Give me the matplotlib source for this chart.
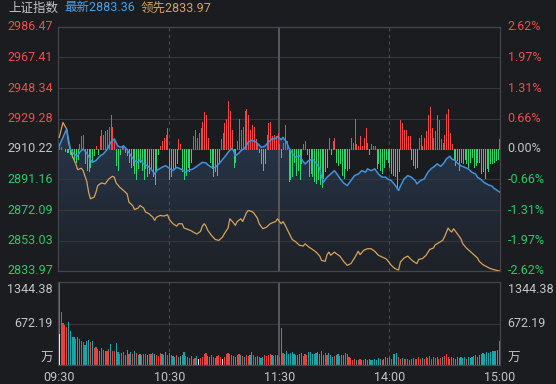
import numpy as np
import matplotlib

matplotlib.use("Agg")
import matplotlib.pyplot as plt  # noqa: E402
from matplotlib.colors import LinearSegmentedColormap  # noqa: E402

# --- dados (minutos desde 09:30, pregão de 240 min) ---
PREV_CLOSE = 2910.22
Y_LOW, Y_HIGH = 2833.97, 2986.47
VOL_MAX = 1344.38

# índice (linha azul)
blue_t = [0, 4, 6, 8, 10, 11, 13, 15, 17, 18, 20, 22, 24, 26, 28, 30, 32, 34, 35, 37,
          39, 41, 43, 44, 46, 48, 50, 52, 53, 56, 58, 60, 62, 64, 67, 69, 70, 73, 75, 78,
          80, 81, 83, 85, 87, 89, 90, 92, 94, 95, 96, 98, 99, 101, 103, 105, 107, 109, 110, 112,
          114, 116, 118, 119, 121, 122, 124, 125, 127, 129, 131, 133, 134, 136, 138, 140, 142, 143, 144, 146,
          148, 150, 151, 153, 155, 157, 159, 161, 163, 165, 167, 168, 170, 172, 174, 176, 178, 179, 181, 183,
          185, 186, 188, 190, 192, 194, 195, 197, 199, 201, 203, 204, 206, 208, 210, 211, 213, 214, 216, 217,
          219, 221, 223, 225, 227, 228, 230, 232, 234, 236, 237, 240]
blue_p = [2912.3, 2922.7, 2910.2, 2907.1, 2905.7, 2908.1, 2910.2, 2907.7, 2903.6, 2901.9,
          2903.0, 2905.7, 2907.1, 2909.8, 2914.4, 2916.5, 2911.9, 2911.3, 2912.3, 2909.8,
          2906.1, 2903.0, 2901.9, 2903.6, 2900.9, 2899.8, 2897.8, 2894.6, 2896.7, 2898.8,
          2899.8, 2898.2, 2896.7, 2898.8, 2897.3, 2895.7, 2896.7, 2897.8, 2899.4, 2901.9,
          2901.5, 2900.3, 2898.8, 2898.8, 2900.9, 2903.6, 2905.0, 2908.1, 2910.6, 2909.2,
          2906.1, 2907.7, 2909.2, 2910.6, 2914.4, 2915.8, 2914.8, 2912.7, 2911.3, 2911.9,
          2914.4, 2916.5, 2916.9, 2918.1, 2916.0, 2917.5, 2914.4, 2911.3, 2907.7, 2905.0,
          2906.1, 2902.3, 2900.9, 2903.0, 2904.0, 2901.5, 2898.2, 2892.6, 2889.5, 2892.6,
          2894.6, 2896.7, 2895.3, 2891.9, 2889.0, 2887.4, 2890.5, 2893.6, 2894.6, 2896.7,
          2895.7, 2897.8, 2896.7, 2897.8, 2894.6, 2892.6, 2892.6, 2891.5, 2890.5, 2887.8,
          2884.3, 2887.0, 2891.5, 2893.6, 2892.6, 2890.5, 2888.4, 2890.5, 2891.5, 2895.7,
          2898.2, 2898.8, 2900.9, 2899.4, 2901.9, 2904.0, 2905.7, 2904.0, 2903.0, 2901.5,
          2899.8, 2898.8, 2897.8, 2895.7, 2894.6, 2892.6, 2891.1, 2889.0, 2887.8, 2887.0,
          2885.7, 2883.36]

# 领先指标 (linha laranja)
lead_t = [0, 2, 4, 5, 7, 9, 10, 12, 13, 15, 16, 17, 19, 20, 21, 23, 25, 26, 27, 29,
          30, 31, 33, 35, 37, 38, 40, 41, 43, 44, 46, 47, 49, 51, 52, 53, 55, 57, 59, 60,
          62, 64, 65, 67, 68, 70, 72, 73, 75, 77, 78, 79, 80, 81, 83, 85, 87, 89, 90, 92,
          93, 95, 96, 97, 99, 100, 102, 103, 105, 106, 108, 109, 111, 113, 115, 117, 118, 119, 121, 122,
          123, 125, 127, 129, 131, 133, 134, 136, 138, 140, 142, 143, 145, 146, 147, 148, 150, 151, 153, 155,
          157, 159, 161, 163, 164, 166, 168, 170, 172, 174, 176, 178, 179, 181, 183, 185, 186, 188, 190, 191,
          193, 195, 196, 198, 200, 202, 204, 205, 207, 209, 210, 212, 213, 214, 215, 217, 219, 220, 222, 224,
          226, 228, 229, 231, 233, 235, 237, 239, 240]
lead_p = [2917.5, 2926.8, 2922.7, 2914.4, 2906.1, 2900.9, 2897.3, 2898.2, 2896.7, 2889.9,
          2883.2, 2879.1, 2880.1, 2883.2, 2887.4, 2889.0, 2888.4, 2889.9, 2891.5, 2893.2,
          2892.6, 2889.0, 2886.3, 2884.3, 2882.2, 2877.0, 2874.9, 2872.4, 2873.3, 2874.9,
          2873.3, 2870.8, 2869.7, 2867.6, 2865.6, 2867.6, 2868.7, 2868.3, 2869.1, 2866.2,
          2863.5, 2862.0, 2863.5, 2863.5, 2860.8, 2860.0, 2859.1, 2858.3, 2857.1, 2858.7,
          2862.0, 2863.5, 2862.0, 2859.3, 2856.2, 2853.7, 2853.1, 2855.2, 2857.3, 2860.8,
          2866.6, 2864.1, 2862.5, 2864.9, 2866.6, 2864.9, 2870.3, 2871.8, 2871.2, 2870.3,
          2867.0, 2863.5, 2860.4, 2861.4, 2863.5, 2864.5, 2864.9, 2866.6, 2863.5, 2864.9,
          2862.9, 2858.3, 2853.7, 2852.1, 2850.0, 2849.6, 2851.0, 2849.0, 2847.5, 2845.8,
          2843.3, 2840.6, 2840.0, 2844.2, 2845.8, 2843.8, 2845.8, 2844.8, 2843.3, 2840.0,
          2837.5, 2838.6, 2842.1, 2846.3, 2844.2, 2846.9, 2847.9, 2847.9, 2846.3, 2843.8,
          2842.7, 2841.7, 2840.6, 2837.5, 2835.5, 2834.6, 2839.6, 2842.1, 2843.3, 2842.1,
          2840.0, 2838.6, 2841.3, 2841.7, 2843.8, 2847.5, 2848.3, 2850.4, 2851.7, 2853.1,
          2855.2, 2860.8, 2859.3, 2858.3, 2860.4, 2857.3, 2854.1, 2851.0, 2848.3, 2846.3,
          2844.2, 2842.1, 2840.0, 2837.9, 2836.7, 2835.5, 2834.8, 2834.2, 2833.97]

# barras vermelhas/verdes (força), em pontos do índice a partir do fechamento anterior
force = [2, 1, 0, -1, -2, -2, -3, -5, -6, -8,
         -6, 3, 8, 9, -9, -13, -14, -11, -8, -4,
         2, -3, 8, 12, 9, 11, 12, 14, 21, 14,
         6, -10, -13, -3, 2, 1, -2, -4, -8, -11,
         -10, -15, -19, -12, -8, -13, -19, -12, -17, -15,
         -12, -17, -22, -14, -3, 2, 5, 7, 9, 13,
         -19, -17, -12, -11, -9, 6, 3, -14, -19, -16,
         -11, -14, -8, 8, 12, 7, 10, 13, 17, 23,
         21, 7, -8, -12, -17, -14, -16, -9, 6, 10,
         16, 19, 30, 24, 12, -11, -8, 5, 19, 12,
         14, 24, 25, 21, 12, 15, 14, 6, 3, -2,
         -9, -13, -9, 9, 16, 17, 8, 9, 8, 10,
         3, -5, 4, 15, 5, -20, -19, -17, -8, -16,
         -13, -19, -9, 3, 5, -3, -17, -15, -17, -20,
         -21, -19, -22, -24, -18, -14, -11, 7, -3, 5,
         7, -8, -10, -9, -16, -18, -12, -13, -12, 7,
         4, 19, 3, 2, 8, 2, 7, 13, 4, -3,
         3, 2, 2, -12, -9, -13, -15, -11, -6, -8,
         -11, -15, -16, -17, -24, -14, 18, 16, 12, 12,
         8, 8, -6, -10, -12, -11, 7, 9, 2, 7,
         11, 21, 26, 13, 7, 11, 21, 18, 6, 4,
         9, 22, 25, 10, 3, -7, -10, -7, -13, -8,
         -9, -6, -9, -11, -8, -5, -11, -10, -8, -8,
         -15, -14, -18, -12, -14, -9, -9, -8, -7, -6,
         6]

# volume (万)
volume = [1344.38, 854, 677, 651, 624, 704, 560, 464, 453, 427,
          464, 427, 400, 380, 336, 400, 411, 374, 390, 283,
          304, 266, 240, 283, 250, 229, 240, 266, 347, 240,
          240, 357, 213, 187, 197, 213, 170, 250, 187, 213,
          187, 240, 197, 160, 176, 160, 187, 176, 160, 187,
          176, 197, 187, 170, 150, 200, 180, 160, 220, 175,
          205, 160, 150, 130, 170, 140, 150, 160, 215, 150,
          130, 120, 150, 110, 120, 150, 100, 120, 130, 180,
          200, 150, 130, 160, 140, 120, 150, 170, 140, 110,
          130, 190, 200, 180, 160, 150, 140, 170, 180, 160,
          150, 140, 170, 150, 160, 215, 160, 140, 150, 130,
          120, 140, 160, 150, 170, 180, 160, 150, 170, 160,
          140, 600, 200, 180, 230, 190, 200, 210, 180, 170,
          160, 180, 200, 150, 190, 170, 210, 220, 190, 180,
          200, 210, 180, 230, 170, 200, 160, 200, 170, 140,
          150, 160, 190, 150, 170, 160, 200, 180, 140, 120,
          90, 100, 80, 90, 100, 80, 90, 110, 80, 100,
          90, 80, 100, 90, 120, 100, 90, 110, 140, 120,
          130, 110, 190, 180, 200, 130, 110, 120, 100, 110,
          100, 90, 110, 120, 100, 110, 130, 100, 120, 110,
          130, 120, 150, 110, 130, 120, 140, 110, 120, 130,
          150, 190, 140, 110, 130, 120, 110, 130, 120, 140,
          120, 130, 110, 140, 120, 130, 150, 160, 140, 170,
          190, 200, 180, 210, 200, 220, 230, 240, 230, 250, 400]
auction_vol = 510

# r = alta, t = baixa, g = estável, w = branco
vol_dir = ("rrrrrttttr" "trrrtttrtr" "rrttrtrrtr" "rttrrrttrt" "rtrtgrrrgr"
           "rtgrrrtrtr" "trttrtgttr" "rrtrrtwrrr" "rtttrtrrrw" "rrrrrttrrt"
           "rtrrttrttr" "ttrrrrtrrt" "rtrttttttt" "tttrrrtttt" "tttttrrttt"
           "rtttttttrr" "rrtrrtrgtt" "ttttttrttt" "trtttrrtrr" "rtttrrrrtr"
           "rrrrtrrrrt" "rrrttttttt" "ttrttttttt" "ttttttttttt")

time_labels = ["09:30", "10:30", "11:30", "14:00", "15:00"]
time_pos = [0, 60, 120, 180, 240]
price_levels = [2986.47, 2967.41, 2948.34, 2929.28, 2910.22, 2891.16, 2872.09, 2853.03, 2833.97]
pct_labels = ["2.62%", "1.97%", "1.31%", "0.66%", "0.00%", "-0.66%", "-1.31%", "-1.97%", "-2.62%"]
vol_levels = [1344.38, 672.19]
vol_labels = ["1344.38", "672.19"]

# --- estilo ---
BG = "#1b1c20"
GRID = "#36373c"
FRAME = "#45464c"
RED = "#ee4c4c"
GREEN = "#2ec866"
BAR_RED = "#f04848"
BAR_GREEN = "#2fd56c"
GRAY_TXT = "#c4c4c4"
BLUE = "#3f93dd"
ORANGE = "#d6a25a"
VOL_COLORS = {"r": "#e5433f", "t": "#1fa3a6", "g": "#8a8a8a", "w": "#e6e6e6"}

plt.rcParams["font.family"] = ["Roboto", "Noto Sans CJK SC"]
plt.rcParams["font.size"] = 9

fig = plt.figure(figsize=(5.56, 3.84), dpi=100, facecolor=BG)
W, H = 556, 384
ax = fig.add_axes([58 / W, 1 - 271 / H, 442 / W, 244 / H], facecolor=BG)
axv = fig.add_axes([58 / W, 1 - 365.4 / H, 442 / W, 83.4 / H], facecolor=BG)

minutes = np.arange(len(force))
XL = (-0.7, 240.3)

# --- painel de preço ---
ax.set_xlim(*XL)
ax.set_ylim(Y_LOW, Y_HIGH)
for lv in price_levels[1:-1]:
    ax.axhline(lv, color=GRID, lw=0.8, zorder=1)

# preenchimento em gradiente sob a linha azul
poly = ax.fill_between(blue_t, blue_p, Y_LOW, color="none", lw=0)
cmap = LinearSegmentedColormap.from_list("fade", ["#1e2127", "#27364a"])
grad = np.linspace(0, 1, 256).reshape(-1, 1)
img = ax.imshow(grad, extent=[XL[0], XL[1], Y_LOW, PREV_CLOSE + 10], origin="lower",
                aspect="auto", cmap=cmap, zorder=0.5)
img.set_clip_path(poly.get_paths()[0], transform=ax.transData)

force = np.array(force, dtype=float)
up = force > 0
ax.vlines(minutes[up], PREV_CLOSE, PREV_CLOSE + force[up], color=BAR_RED, lw=0.5,
          antialiased=False, zorder=2)
ax.vlines(minutes[~up], PREV_CLOSE, PREV_CLOSE + force[~up], color=BAR_GREEN, lw=0.5,
          antialiased=False, zorder=2)

ax.plot(lead_t, lead_p, color=ORANGE, lw=0.9, zorder=3)
ax.plot(blue_t, blue_p, color=BLUE, lw=1.1, zorder=4)

for a in (ax, axv):
    for x in time_pos[1:-1]:
        if x == 120:
            a.axvline(x, color="#5c5d62", lw=1.3, zorder=1.5)
        else:
            a.axvline(x, color="#4b4c51", lw=0.8, ls=(0, (3, 3)), zorder=1.5)
    a.set_xticks([])
    a.set_yticks([])
    for s in a.spines.values():
        s.set_color(FRAME)
        s.set_linewidth(0.9)

for lv, pl in zip(price_levels, pct_labels):
    if lv > PREV_CLOSE:
        c = RED
    elif lv < PREV_CLOSE:
        c = GREEN
    else:
        c = GRAY_TXT
    ax.text(-0.012, lv, f"{lv:.2f}", transform=ax.get_yaxis_transform(),
            ha="right", va="center", color=c, fontsize=9)
    ax.text(1.017, lv, pl, transform=ax.get_yaxis_transform(),
            ha="left", va="center", color=c, fontsize=9)

# --- painel de volume ---
axv.set_xlim(*XL)
axv.set_ylim(0, VOL_MAX)
axv.axhline(vol_levels[1], color=GRID, lw=0.8, zorder=1)
axv.bar(minutes, volume, width=0.62, color=[VOL_COLORS[c] for c in vol_dir], zorder=2)
axv.bar(0, auction_vol, width=0.3, align="edge", color=VOL_COLORS["w"], zorder=3)

for lv, lb in zip(vol_levels, vol_labels):
    va = "top" if lv == VOL_MAX else "center"
    yy = lv - 20 if lv == VOL_MAX else lv
    axv.text(-0.012, yy, lb, transform=axv.get_yaxis_transform(), ha="right", va=va,
             color=GRAY_TXT, fontsize=9)
    axv.text(1.017, yy, lb, transform=axv.get_yaxis_transform(), ha="left", va=va,
             color=GRAY_TXT, fontsize=9)
axv.text(-0.012, 0.09, "万", transform=axv.transAxes, ha="right", va="center",
         color=GRAY_TXT, fontsize=9)
axv.text(1.017, 0.09, "万", transform=axv.transAxes, ha="left", va="center",
         color=GRAY_TXT, fontsize=9)

for x, lb in zip(time_pos, time_labels):
    axv.text(x, -0.14, lb, transform=axv.get_xaxis_transform(), ha="center", va="center",
             color=GRAY_TXT, fontsize=9)

# --- cabeçalho ---
fig.text(8 / W, 1 - 8 / H, "上证指数", color=GRAY_TXT, fontsize=9, va="center")
fig.text(64 / W, 1 - 8 / H, "最新2883.36", color="#4a9fe6", fontsize=9, va="center")
fig.text(141 / W, 1 - 8 / H, "领先2833.97", color=ORANGE, fontsize=9, va="center")

fig.savefig("out.png", dpi=100, facecolor=BG)
